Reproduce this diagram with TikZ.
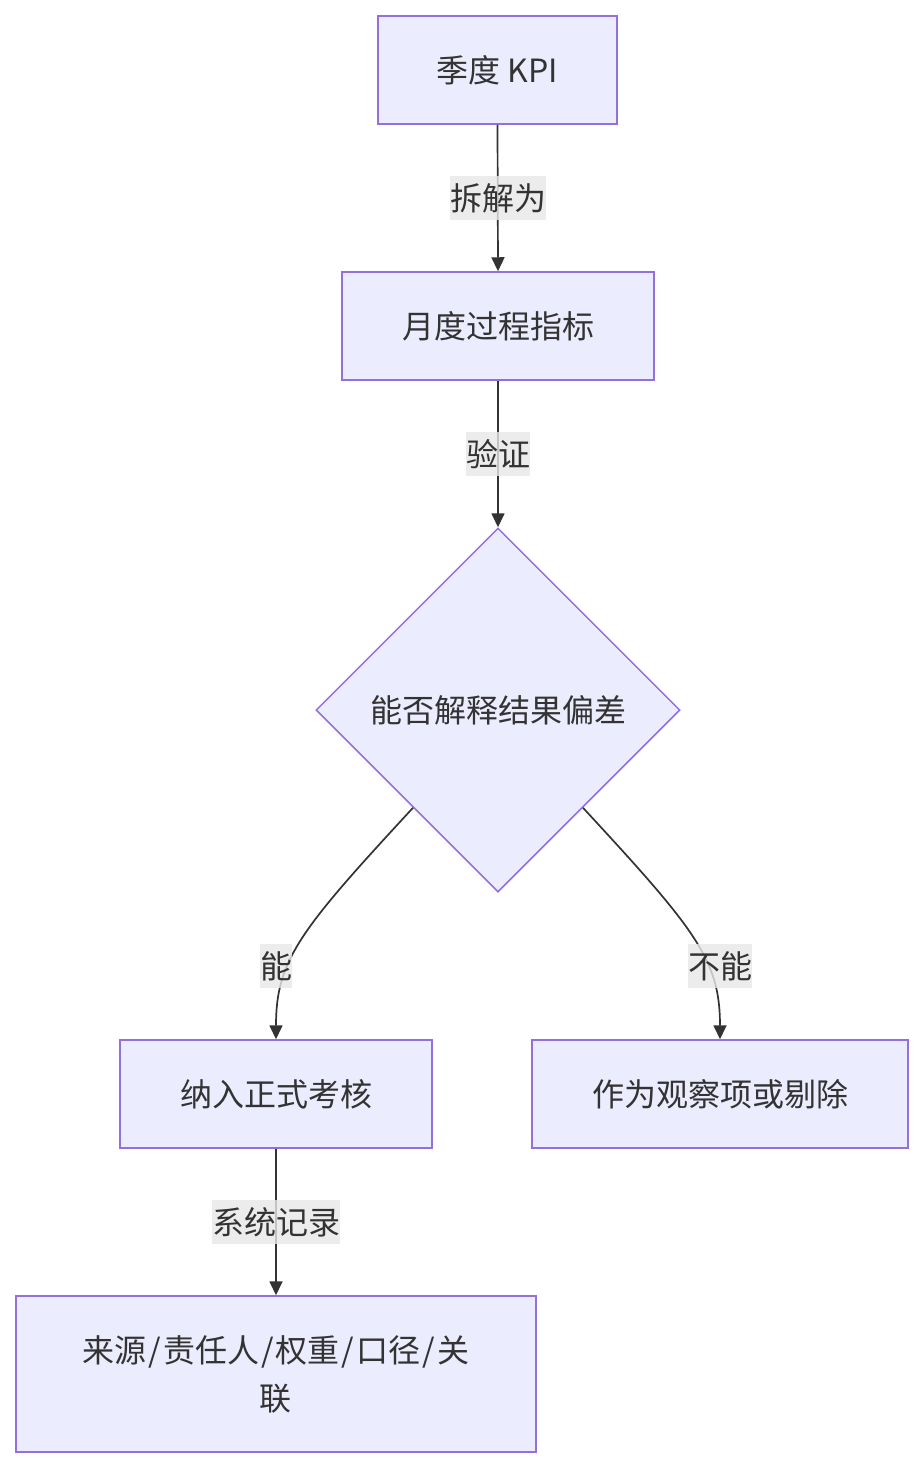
\documentclass[tikz,border=0pt]{standalone}
\usepackage{fontspec}
\setmainfont{Noto Sans CJK SC}
\usetikzlibrary{shapes.geometric,arrows.meta}
\definecolor{nodefill}{HTML}{ECECFF}
\definecolor{nodeline}{HTML}{9370DB}
\definecolor{edgecol}{HTML}{333333}
\definecolor{lblbg}{HTML}{E8E8E8}
\definecolor{txtcol}{HTML}{333333}
\newcommand{\myslash}{\kern2pt/\kern2pt}
\begin{document}
\begin{tikzpicture}[x=1pt,y=-1pt,
  box/.style={draw=nodeline,fill=nodefill,line width=1.5pt,inner sep=0pt,text=txtcol,
    font=\fontsize{32}{48}\selectfont,align=center},
  decision/.style={box,diamond,aspect=1,minimum size=364pt},
  lbl/.style={fill=lblbg,fill opacity=0.8,text opacity=1,inner xsep=0pt,inner ysep=0pt,
    minimum height=44pt,text=txtcol,font=\fontsize{32}{48}\selectfont},
  flow/.style={draw=edgecol,line width=1.7pt,-{Triangle[length=14pt,width=13pt]}}]
\useasboundingbox (0,0) rectangle (924,1468);
\fill[white] (0,0) rectangle (924,1468);

\node[box,minimum width=239pt,minimum height=108pt] (a) at (497.5,70) {季度 KPI};
\node[box,minimum width=312pt,minimum height=108pt] (b) at (498,326) {月度过程指标};
\node[decision] (c) at (498,710) {能否解释结果偏差};
\node[box,minimum width=312pt,minimum height=108pt] (d) at (276,1094) {纳入正式考核};
\node[box,minimum width=376pt,minimum height=108pt] (e) at (720,1094) {作为观察项或剔除};
\node[box,minimum width=520pt,minimum height=156pt] (f) at (276,1374) {来源\myslash 责任人\myslash 权重\myslash 口径\myslash 关\\联};

\draw[flow] (a.south) -- (b.north);
\draw[flow] (b.south) -- (c.north);
\draw[flow] (c.229) .. controls (300,930) and (276,960) .. (d.north);
\draw[flow] (c.311) .. controls (696,930) and (720,960) .. (e.north);
\draw[flow] (d.south) -- (f.north);

\node[lbl] (l1) at (498,198) {拆解为};
\node[lbl] (l2) at (498,454) {验证};
\node[lbl] (l3) at (276,966) {能};
\node[lbl] (l4) at (720,966) {不能};
\node[lbl] (l5) at (276,1222) {系统记录};
\end{tikzpicture}
\end{document}
